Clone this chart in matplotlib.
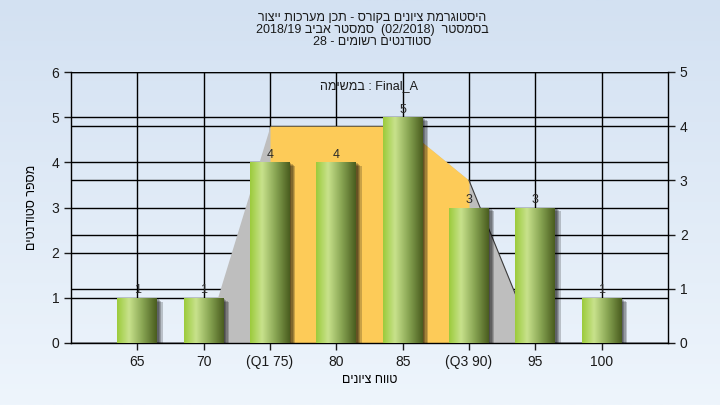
import re
import numpy as np
import matplotlib
matplotlib.use("Agg")
import matplotlib.pyplot as plt
import matplotlib.patheffects as pe
from matplotlib.colors import LinearSegmentedColormap

# data
grades = ["65", "70", "(Q1 75)", "80", "85", "(Q3 90)", "95", "100"]
students = [1, 1, 4, 4, 5, 3, 3, 1]
curve = [np.nan, 0, 4, 4, 4, 3, 0, np.nan]   # right axis (0-5)
q1_idx = 2
q3_idx = 5
left_ticks = [0, 1, 2, 3, 4, 5, 6]
right_ticks = [0, 1, 2, 3, 4, 5]

title_lines = [
    "היסטוגרמת ציונים בקורס - תכן מערכות ייצור",
    "בסמסטר  (02/2018)  סמסטר אביב 2018/19",
    "סטודנטים רשומים - 28",
]
task_word = "במשימה"
task_name = "Final_A"
xlabel = "טווח ציונים"
ylabel = "מספר סטודנטים"


def rtl(s):
    # crude visual ordering for a right-to-left line
    r = s[::-1]
    r = re.sub(r"[0-9A-Za-z_/.]+", lambda m: m.group(0)[::-1], r)
    return r.translate(str.maketrans("()", ")("))


plt.rcParams["font.family"] = ["Liberation Sans Narrow", "Liberation Sans", "DejaVu Sans"]

fig = plt.figure(figsize=(7.2, 4.05), dpi=100)

# light blue background
bg = fig.add_axes([0, 0, 1, 1], zorder=-10)
grad_bg = np.linspace(0, 1, 256).reshape(-1, 1)
bg_cmap = LinearSegmentedColormap.from_list("bg", ["#d3e1f2", "#eef5fc"])
bg.imshow(grad_bg, cmap=bg_cmap, aspect="auto", extent=(0, 1, 0, 1))
bg.axis("off")

ax = fig.add_axes([71 / 720, 1 - 343 / 405, 597 / 720, 271 / 405])
ax2 = ax.twinx()
ax.set_zorder(2)
ax.patch.set_visible(False)
ax2.set_zorder(1)
ax2.patch.set_facecolor("#b0b0b0")

x = np.arange(1, len(grades) + 1)
curve = np.array(curve, dtype=float)

# grid lines (below the areas)
for v in left_ticks:
    ax2.plot([0, 1], [v, v], transform=ax.get_yaxis_transform(), color="black", lw=1, zorder=1)
for v in right_ticks:
    ax2.axhline(v, color="black", lw=1, zorder=1)
for xi in x:
    ax2.axvline(xi, color="black", lw=1, zorder=1)

# distribution areas
ok = ~np.isnan(curve)
ax2.fill_between(x[ok], curve[ok], color="#bebebe", lw=0, zorder=2)
ax2.fill_between(x[q1_idx:q3_idx + 1], curve[q1_idx:q3_idx + 1], color="#fdcb58", lw=0, zorder=3)
ax2.plot(x[q3_idx:q3_idx + 2], curve[q3_idx:q3_idx + 2], color="#3c3c3c", lw=0.8, zorder=4)

# bars with shadow + gradient
shadow = [pe.SimplePatchShadow(offset=(d, -0.7 * d), shadow_rgbFace="black", alpha=0.2)
          for d in (1, 2, 3, 4)]
bars = ax.bar(x, students, width=0.6, color="#8db04a", zorder=3,
              path_effects=shadow + [pe.Normal()])
bar_cmap = LinearSegmentedColormap.from_list(
    "bar", [(0, "#9ccb3c"), (0.3, "#c8e28c"), (0.65, "#87a452"), (1, "#4a5d1f")])
g = np.linspace(0, 1, 100).reshape(1, -1)
for b in bars:
    im = ax.imshow(g, cmap=bar_cmap, aspect="auto", interpolation="bilinear", zorder=3.5,
                   extent=(b.get_x(), b.get_x() + b.get_width(), 0, b.get_height()))
    im.set_clip_path(b)

ax.bar_label(bars, padding=1, fontsize=9, color="#2a2a2a")

ax.set_xlim(0, len(grades) + 1)
ax.set_ylim(0, 6)
ax2.set_ylim(0, 5)

ax.set_xticks(x, grades)
ax.set_yticks(left_ticks)
ax2.set_yticks(right_ticks)
ax.tick_params(axis="both", direction="out", length=5, width=1, labelsize=10, colors="#1a1a1a")
ax2.tick_params(axis="y", direction="out", length=5, width=1, labelsize=10, colors="#1a1a1a")

for s in ["top", "right"]:
    ax.spines[s].set_visible(False)
for s in ["top", "left", "bottom"]:
    ax2.spines[s].set_visible(False)
for sp in [ax.spines["left"], ax.spines["bottom"], ax2.spines["right"]]:
    sp.set_color("black")
    sp.set_linewidth(1)

ax.text(0.5, 0.948, rtl(task_word) + " : " + task_name, transform=ax.transAxes,
        ha="center", va="center", fontsize=9, color="#1a1a1a", zorder=6)

fig.text(372 / 720, 1 - 30 / 405, "\n".join(rtl(t) for t in title_lines),
         ha="center", va="center", fontsize=9, linespacing=1.05, color="#1a1a1a")
fig.text(370 / 720, 1 - 380 / 405, rtl(xlabel), ha="center", va="center", fontsize=9)
fig.text(32 / 720, 1 - 207 / 405, rtl(ylabel), ha="center", va="center", fontsize=9, rotation=90)

fig.savefig("out.png", dpi=100)
